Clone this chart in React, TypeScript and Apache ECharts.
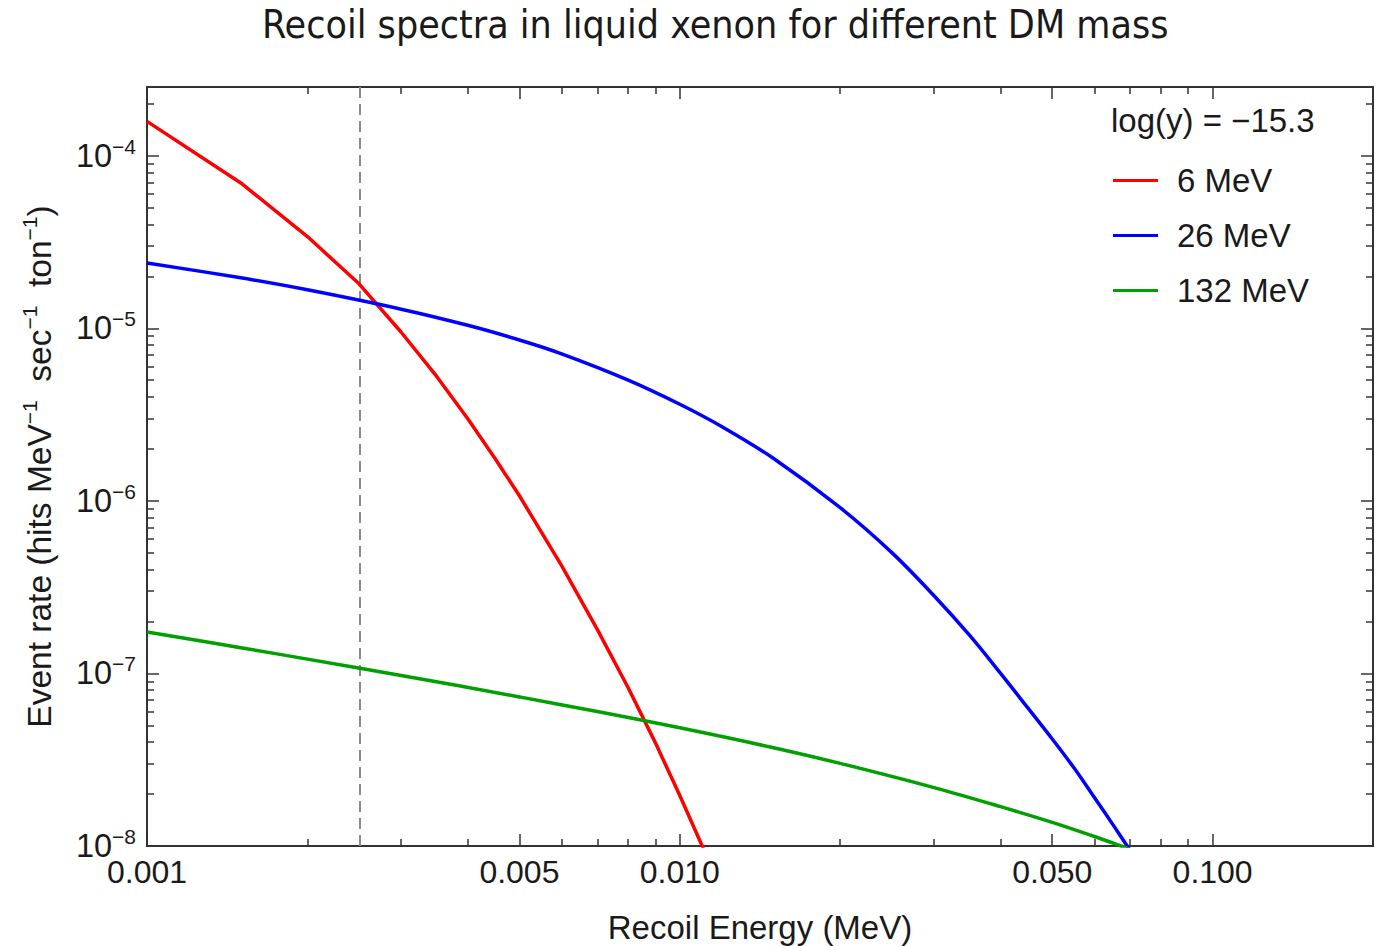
import React, { useEffect, useRef } from "react";
import * as echarts from "echarts";

// ---------- texts ----------
const chartTitle = "Recoil spectra in liquid xenon for different DM mass";
const legendHeader = "log(y) = \u221215.3";
const xAxisTitle = "Recoil Energy (MeV)";
const yAxisTitleRich = "Event rate (hits MeV{s|\u22121}  sec{s|\u22121}  ton{s|\u22121})";
const seriesNames = ["6 MeV", "26 MeV", "132 MeV"];
const seriesColors = ["#ff0000", "#0000ff", "#00a000"];

// ---------- data (recoil energy in MeV, event rate) ----------
const energies6 = [0.001, 0.0015, 0.002, 0.0025, 0.003, 0.0035, 0.004, 0.0045, 0.005, 0.006, 0.007, 0.008, 0.009, 0.01, 0.011, 0.012];
const rates6 = [1.58e-4, 6.95e-5, 3.4e-5, 1.81e-5, 9.48e-6, 5.24e-6, 2.99e-6, 1.76e-6, 1.07e-6, 4.21e-7, 1.8e-7, 8.26e-8, 3.96e-8, 1.96e-8, 1.01e-8, 5.33e-9];

const energies26 = [0.001, 0.0015, 0.002, 0.003, 0.004, 0.005, 0.006, 0.008, 0.01, 0.012, 0.015, 0.02, 0.025, 0.03, 0.035, 0.04, 0.045, 0.05, 0.055, 0.06, 0.065, 0.07];
const rates26 = [2.39e-5, 1.96e-5, 1.67e-5, 1.29e-5, 1.04e-5, 8.55e-6, 7.11e-6, 5.01e-6, 3.63e-6, 2.69e-6, 1.76e-6, 9.12e-7, 5.01e-7, 2.82e-7, 1.66e-7, 1.0e-7, 6.31e-8, 4.17e-8, 2.82e-8, 1.91e-8, 1.33e-8, 9.44e-9];

const energies132 = [0.001, 0.0015, 0.002, 0.003, 0.005, 0.007, 0.01, 0.015, 0.02, 0.03, 0.04, 0.05, 0.06, 0.066, 0.07];
const rates132 = [1.74e-7, 1.41e-7, 1.21e-7, 9.73e-8, 7.31e-8, 6.01e-8, 4.84e-8, 3.71e-8, 3.01e-8, 2.18e-8, 1.69e-8, 1.37e-8, 1.135e-8, 1.023e-8, 9.57e-9];

const thresholdEnergy = 0.0025;

// ---------- axes ----------
const xRange = [0.001, 0.2];
const yRange = [1e-8, 2.5e-4];
const xMajorTicks = [0.001, 0.005, 0.01, 0.05, 0.1];
const xTickLabels = ["0.001", "0.005", "0.010", "0.050", "0.100"];
const xMinorTicks = [0.002, 0.003, 0.004, 0.006, 0.007, 0.008, 0.009, 0.02, 0.03, 0.04, 0.06, 0.07, 0.08, 0.09];
const yMajorTicks = [1e-8, 1e-7, 1e-6, 1e-5, 1e-4];
const yTickExponents = ["\u22128", "\u22127", "\u22126", "\u22125", "\u22124"];
const yMinorTicks = [
  2e-8, 3e-8, 4e-8, 5e-8, 6e-8, 7e-8, 8e-8, 9e-8,
  2e-7, 3e-7, 4e-7, 5e-7, 6e-7, 7e-7, 8e-7, 9e-7,
  2e-6, 3e-6, 4e-6, 5e-6, 6e-6, 7e-6, 8e-6, 9e-6,
  2e-5, 3e-5, 4e-5, 5e-5, 6e-5, 7e-5, 8e-5, 9e-5,
  2e-4,
];

const FONT = "Liberation Sans";
const TEXT = "#1a1a1a";
const FRAME = "#333333";
const lg = (v: number) => Math.log10(v);

function frameAxis(position: string, range: number[], ticks: number[], tickLen: number, extra: any = {}) {
  return {
    type: "value",
    position,
    min: lg(range[0]),
    max: lg(range[1]),
    axisLine: { show: true, onZero: false, lineStyle: { color: FRAME, width: 2 } },
    axisTick: {
      show: true,
      inside: true,
      length: tickLen,
      customValues: ticks.map(lg),
      lineStyle: { color: FRAME, width: 1.5 },
    },
    axisLabel: { show: false },
    splitLine: { show: false },
    axisPointer: { show: false },
    ...extra,
  };
}

const supStyle = { fontSize: 21, lineHeight: 21, verticalAlign: "top", fontFamily: FONT, color: TEXT };

export default function App() {
  const ref = useRef<HTMLDivElement>(null);

  useEffect(() => {
    if (!ref.current) return;
    const chart = echarts.init(ref.current, null, { renderer: "svg" });

    const xLabel = (v: number) => {
      const i = xMajorTicks.findIndex((t) => Math.abs(lg(t) - v) < 1e-6);
      return i >= 0 ? xTickLabels[i] : "";
    };
    const yLabel = (v: number) => {
      const i = yMajorTicks.findIndex((t) => Math.abs(lg(t) - v) < 1e-6);
      return i >= 0 ? `{b|10}{s|${yTickExponents[i]}}` : "";
    };

    const datasets = [
      [energies6, rates6],
      [energies26, rates26],
      [energies132, rates132],
    ];

    const series: any[] = datasets.map(([xs, ys], k) => ({
      name: seriesNames[k],
      type: "line",
      xAxisIndex: 0,
      yAxisIndex: 0,
      showSymbol: false,
      symbol: "none",
      smooth: k === 0 ? false : 0.35,
      clip: true,
      color: seriesColors[k],
      lineStyle: { color: seriesColors[k], width: 3.5 },
      data: xs.map((x, i) => [lg(x), lg(ys[i])]),
      z: 3 + k,
    }));
    series[0].markLine = {
      silent: true,
      symbol: ["none", "none"],
      label: { show: false },
      lineStyle: { color: "#8a8a8a", type: [11, 6], width: 2 },
      data: [{ xAxis: lg(thresholdEnergy) }],
      z: 1,
    };

    const option: any = {
      animation: false,
      backgroundColor: "#ffffff",
      title: [
        {
          text: chartTitle,
          left: 257,
          top: 0,
          textStyle: { fontSize: 39, fontWeight: "normal", fontFamily: "DejaVu Sans Condensed", color: TEXT },
        },
        {
          text: legendHeader,
          left: 1106,
          top: 99,
          textStyle: { fontSize: 33, lineHeight: 33, fontWeight: "normal", fontFamily: FONT, color: TEXT },
        },
      ],
      legend: {
        orient: "vertical",
        left: 1108,
        top: 159,
        itemWidth: 45,
        itemHeight: 3,
        itemGap: 22,
        icon: "rect",
        selectedMode: false,
        data: seriesNames,
        textStyle: { fontSize: 33, lineHeight: 33, fontFamily: FONT, color: TEXT, padding: [0, 0, 0, 14] },
      },
      grid: { left: 147, right: 11, top: 87, bottom: 100, containLabel: false, outerBoundsMode: "none" },
      xAxis: [
        frameAxis("bottom", xRange, xMajorTicks, 12, {
          axisLabel: {
            show: true,
            customValues: xMajorTicks.map(lg),
            formatter: xLabel,
            fontSize: 32,
            fontFamily: FONT,
            color: TEXT,
            margin: 10,
          },
          name: xAxisTitle,
          nameLocation: "middle",
          nameGap: 65,
          nameMoveOverlap: false,
          nameTextStyle: { fontSize: 33, lineHeight: 33, fontFamily: FONT, color: TEXT },
        }),
        frameAxis("bottom", xRange, xMinorTicks, 7),
        frameAxis("top", xRange, xMajorTicks, 12),
        frameAxis("top", xRange, xMinorTicks, 7),
      ],
      yAxis: [
        frameAxis("left", yRange, yMajorTicks, 12, {
          axisLabel: {
            show: true,
            customValues: yMajorTicks.map(lg),
            formatter: yLabel,
            margin: 11,
            rich: {
              b: { fontSize: 32.5, lineHeight: 40, fontFamily: FONT, color: TEXT },
              s: supStyle,
            },
          },
          name: yAxisTitleRich,
          nameLocation: "middle",
          nameGap: 88,
          nameRotate: 90,
          nameMoveOverlap: false,
          nameTextStyle: { fontSize: 33.5, lineHeight: 40, fontFamily: FONT, color: TEXT, rich: { s: supStyle } },
        }),
        frameAxis("left", yRange, yMinorTicks, 7),
        frameAxis("right", yRange, yMajorTicks, 12),
        frameAxis("right", yRange, yMinorTicks, 7),
      ],
      series,
    };

    chart.setOption(option);
    return () => chart.dispose();
  }, []);

  return (
    <div
      ref={ref}
      style={{ position: "absolute", left: 0, top: 0, width: 1384, height: 946, background: "#fff" }}
    />
  );
}
